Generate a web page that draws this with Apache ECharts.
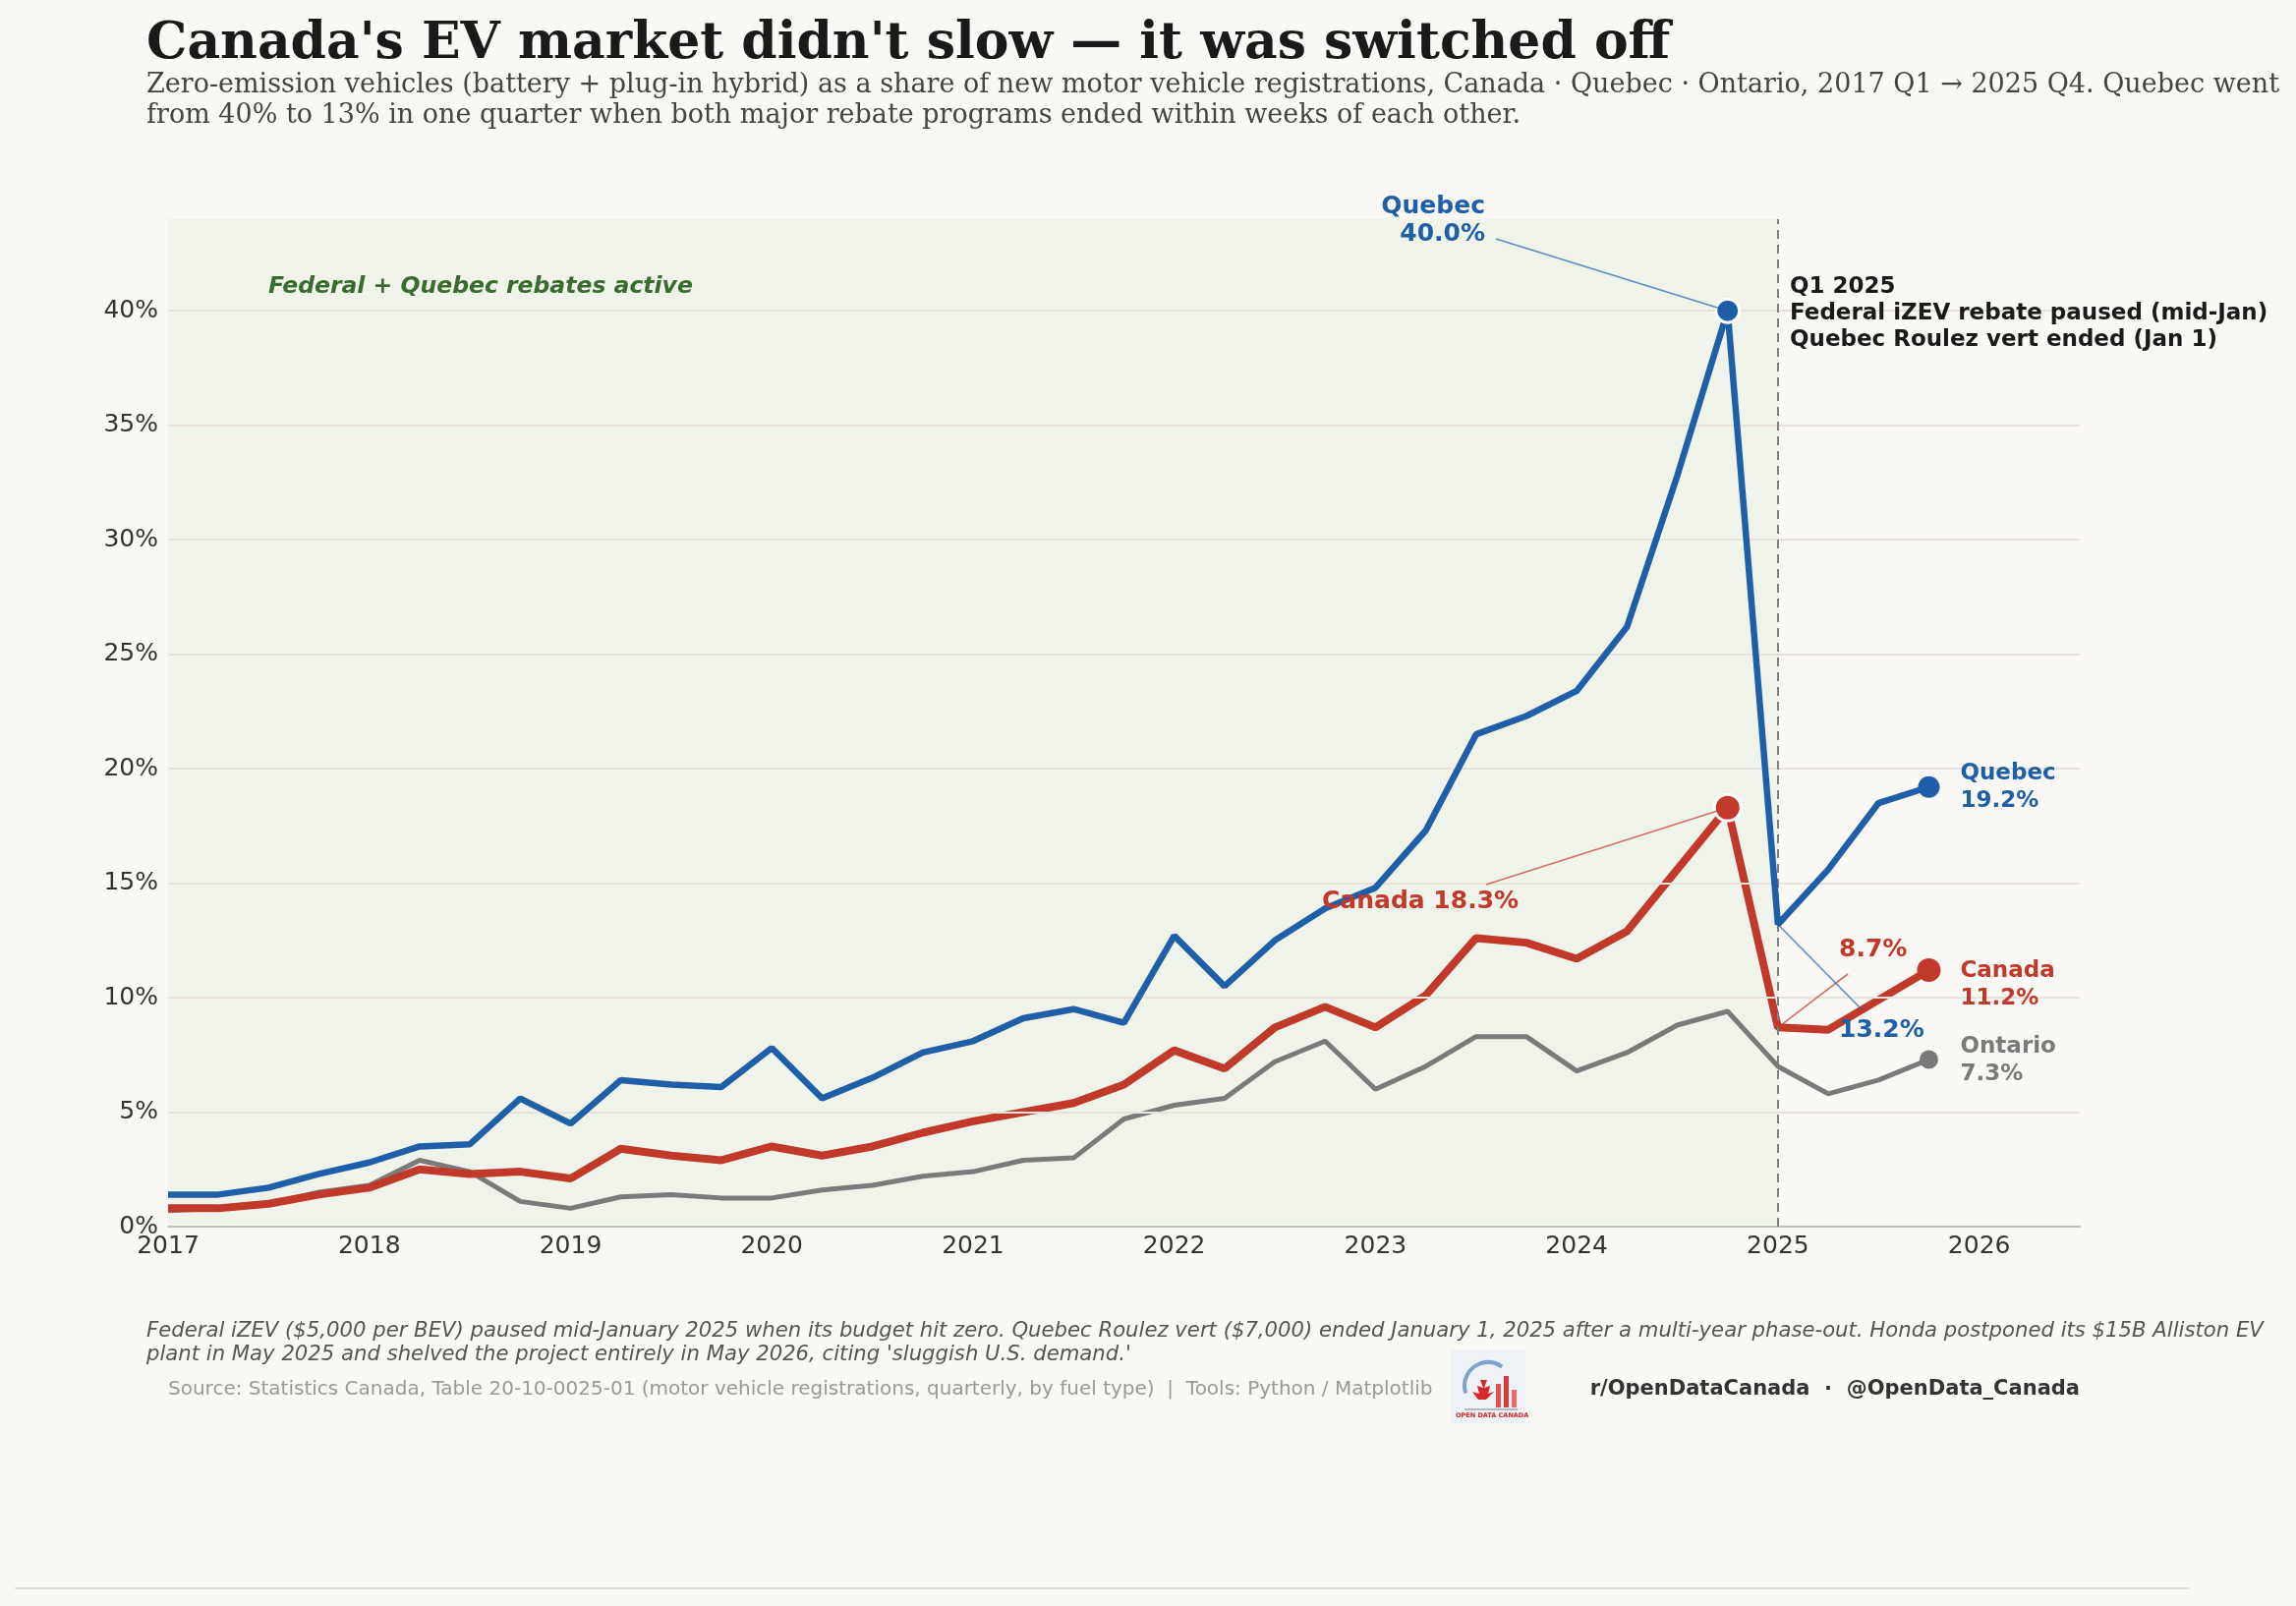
<!DOCTYPE html>
<html>
<head>
<meta charset="utf-8">
<script src="https://cdn.jsdelivr.net/npm/echarts@6/dist/echarts.min.js"></script>
<style>
  html, body { margin: 0; padding: 0; background: #f9f8f4; }
  #chart { width: 2336px; height: 1634px; }
</style>
</head>
<body>
<div id="chart"></div>
<script>
// quarterly ZEV share of new registrations, %
const quarters = [
  "2017 Q1", "2017 Q2", "2017 Q3", "2017 Q4",
  "2018 Q1", "2018 Q2", "2018 Q3", "2018 Q4",
  "2019 Q1", "2019 Q2", "2019 Q3", "2019 Q4",
  "2020 Q1", "2020 Q2", "2020 Q3", "2020 Q4",
  "2021 Q1", "2021 Q2", "2021 Q3", "2021 Q4",
  "2022 Q1", "2022 Q2", "2022 Q3", "2022 Q4",
  "2023 Q1", "2023 Q2", "2023 Q3", "2023 Q4",
  "2024 Q1", "2024 Q2", "2024 Q3", "2024 Q4",
  "2025 Q1", "2025 Q2", "2025 Q3", "2025 Q4"
];
const quebec = [
  1.4, 1.4, 1.7, 2.3, 2.8, 3.5, 3.6, 5.6, 4.5, 6.4, 6.2, 6.1,
  7.8, 5.6, 6.5, 7.6, 8.1, 9.1, 9.5, 8.9, 12.7, 10.5, 12.5, 13.9,
  14.8, 17.3, 21.5, 22.3, 23.4, 26.2, 32.8, 40.0, 13.2, 15.6, 18.5, 19.2
];
const canada = [
  0.8, 0.8, 1.0, 1.4, 1.7, 2.5, 2.3, 2.4, 2.1, 3.4, 3.1, 2.9,
  3.5, 3.1, 3.5, 4.1, 4.6, 5.0, 5.4, 6.2, 7.7, 6.9, 8.7, 9.6,
  8.7, 10.1, 12.6, 12.4, 11.7, 12.9, 15.6, 18.3, 8.7, 8.6, 9.9, 11.2
];
const ontario = [
  0.7, 0.8, 1.0, 1.5, 1.8, 2.9, 2.4, 1.1, 0.8, 1.3, 1.4, 1.25,
  1.25, 1.6, 1.8, 2.2, 2.4, 2.9, 3.0, 4.7, 5.3, 5.6, 7.2, 8.1,
  6.0, 7.0, 8.3, 8.3, 6.8, 7.6, 8.8, 9.4, 7.0, 5.8, 6.4, 7.3
];
const yTicks = [5, 10, 15, 20, 25, 30, 35, 40];
const rebateStart = 2017;
const rebateEnd = 2025;
const peakIdx = quarters.indexOf("2024 Q4");
const dropIdx = quarters.indexOf("2025 Q1");
const lastIdx = quarters.length - 1;

const BLUE = "#1f5fa8", RED = "#c0392b", GREY = "#7a7a7a";
const SANS = "DejaVu Sans", SERIF = "DejaVu Serif";

// "2019 Q3" -> 2019.5
const toX = (q) => {
  const [y, qq] = q.split(" Q");
  return Number(y) + (Number(qq) - 1) / 4;
};
const pts = (vals) => vals.map((v, i) => [toX(quarters[i]), v]);

const chart = echarts.init(document.getElementById("chart"));

const option = {
  backgroundColor: "#f9f8f4",
  animation: false,
  grid: { left: 171, right: 220, top: 223, bottom: 386 },
  xAxis: {
    type: "value", min: 2017, max: 2026.5, interval: 1,
    axisLine: { lineStyle: { color: "#bdbdbd", width: 2 } },
    axisTick: { show: false },
    splitLine: { show: false },
    axisLabel: {
      color: "#333", fontFamily: SANS, fontSize: 25, margin: 8,
      formatter: (v) => (Number.isInteger(v) ? String(v) : "")
    }
  },
  yAxis: {
    type: "value", min: 0, max: 44, interval: 5,
    axisLine: { show: false },
    axisTick: { show: false },
    splitLine: { show: false },
    axisLabel: {
      color: "#333", fontFamily: SANS, fontSize: 25, margin: 10,
      formatter: (v) => (v % 5 === 0 ? v + "%" : "")
    }
  },
  series: [
    {
      name: "shade", type: "line", data: [], z: 1, silent: true,
      markArea: {
        silent: true,
        itemStyle: { color: "rgba(200,225,195,0.2)" },
        data: [[{ xAxis: rebateStart, yAxis: 0 }, { xAxis: rebateEnd, yAxis: 44 }]]
      }
    },
    {
      name: "grid", type: "line", data: [], z: 1, silent: true,
      markLine: {
        silent: true, symbol: "none", label: { show: false },
        lineStyle: { color: "#e6e2da", width: 2, type: "solid" },
        data: yTicks.map((v) => ({ yAxis: v }))
      }
    },
    {
      name: "cutoff", type: "line", data: [], z: 2, silent: true,
      markLine: {
        silent: true, symbol: "none", label: { show: false },
        lineStyle: { color: "#808080", width: 2, type: [9, 6] },
        data: [{ xAxis: rebateEnd }]
      }
    },
    {
      name: "Ontario", type: "line", data: pts(ontario), z: 3,
      showSymbol: false, lineStyle: { color: GREY, width: 5 }
    },
    {
      name: "Canada", type: "line", data: pts(canada), z: 4,
      showSymbol: false, lineStyle: { color: RED, width: 8 }
    },
    {
      name: "Quebec", type: "line", data: pts(quebec), z: 5,
      showSymbol: false, lineStyle: { color: BLUE, width: 6.5 }
    },
    {
      name: "dots", type: "scatter", z: 6,
      itemStyle: { opacity: 1 },
      data: [
        { value: [toX(quarters[peakIdx]), quebec[peakIdx]], symbolSize: 24, itemStyle: { color: BLUE, borderColor: "#fff", borderWidth: 3, opacity: 1 } },
        { value: [toX(quarters[peakIdx]), canada[peakIdx]], symbolSize: 27, itemStyle: { color: RED, borderColor: "#fff", borderWidth: 3, opacity: 1 } },
        { value: [toX(quarters[lastIdx]), quebec[lastIdx]], symbolSize: 22, itemStyle: { color: BLUE, opacity: 1 } },
        { value: [toX(quarters[lastIdx]), canada[lastIdx]], symbolSize: 24, itemStyle: { color: RED, opacity: 1 } },
        { value: [toX(quarters[lastIdx]), ontario[lastIdx]], symbolSize: 19, itemStyle: { color: GREY, opacity: 1 } }
      ]
    }
  ]
};
chart.setOption(option);

const px = (i, vals) => chart.convertToPixel({ gridIndex: 0 }, [toX(quarters[i]), vals[i]]);
const txt = (x, y, text, style) => ({
  type: "text", x, y, z: 100,
  style: Object.assign({ text, fontFamily: SANS, fontSize: 24, fontWeight: "bold", fill: "#1a1a1a", verticalAlign: "top" }, style)
});
const seg = (a, b, color) => ({
  type: "line", z: 90, silent: true,
  shape: { x1: a[0], y1: a[1], x2: b[0], y2: b[1] },
  style: { stroke: color, lineWidth: 1.6, opacity: 0.7 }
});

const qPeak = px(peakIdx, quebec), cPeak = px(peakIdx, canada);
const qDrop = px(dropIdx, quebec), cDrop = px(dropIdx, canada);
const qEnd = px(lastIdx, quebec), cEnd = px(lastIdx, canada), oEnd = px(lastIdx, ontario);
const labX = qEnd[0] + 32;
const fmt = (v) => v.toFixed(1) + "%";

const graphic = [
  // title block
  { type: "text", left: 149, top: 19, style: { text: "Canada's EV market didn't slow \u2014 it was switched off", fontFamily: SERIF, fontWeight: "bold", fontSize: 52, fill: "#1a1a1a" } },
  { type: "text", left: 149, top: 71, style: { text: "Zero-emission vehicles (battery + plug-in hybrid) as a share of new motor vehicle registrations, Canada \u00b7 Quebec \u00b7 Ontario, 2017 Q1 \u2192 2025 Q4. Quebec went\nfrom 40% to 13% in one quarter when both major rebate programs ended within weeks of each other.", fontFamily: SERIF, fontSize: 27, lineHeight: 31, fill: "#444" } },

  txt(273, 280, "Federal + Quebec rebates active", { fontStyle: "italic", fontSize: 23.5, fill: "#3a6b2f" }),

  // Q1 2025 note
  txt(1821, 279, "Q1 2025\nFederal iZEV rebate paused (mid-Jan)\nQuebec Roulez vert ended (Jan 1)", { fontSize: 23, lineHeight: 27 }),

  // peak callouts
  txt(1511, 196, "Quebec\n" + fmt(quebec[peakIdx]), { fill: BLUE, fontSize: 25, lineHeight: 28, align: "right" }),
  seg([1522, 243], qPeak, BLUE),
  txt(1345, 905, "Canada " + fmt(canada[peakIdx]), { fill: RED, fontSize: 25 }),
  seg([1512, 900], cPeak, RED),

  // drop callouts
  txt(1871, 954, fmt(canada[dropIdx]), { fill: RED, fontSize: 25 }),
  seg([1880, 991], cDrop, RED),
  txt(1871, 1036, fmt(quebec[dropIdx]), { fill: BLUE, fontSize: 25 }),
  seg(qDrop, [1895, 1028], BLUE),

  // end labels
  txt(labX, qEnd[1] - 28, "Quebec\n" + fmt(quebec[lastIdx]), { fill: BLUE, fontSize: 23, lineHeight: 28 }),
  txt(labX, cEnd[1] - 13, "Canada\n" + fmt(canada[lastIdx]), { fill: RED, fontSize: 23, lineHeight: 28 }),
  txt(labX, oEnd[1] - 27, "Ontario\n" + fmt(ontario[lastIdx]), { fill: GREY, fontSize: 23, lineHeight: 28 }),

  // footer
  { type: "text", left: 149, top: 1342, style: { text: "Federal iZEV ($5,000 per BEV) paused mid-January 2025 when its budget hit zero. Quebec Roulez vert ($7,000) ended January 1, 2025 after a multi-year phase-out. Honda postponed its $15B Alliston EV\nplant in May 2025 and shelved the project entirely in May 2026, citing 'sluggish U.S. demand.'", fontFamily: SANS, fontStyle: "italic", fontSize: 21.2, lineHeight: 24, fill: "#555" } },
  { type: "text", left: 171, top: 1404, style: { text: "Source: Statistics Canada, Table 20-10-0025-01 (motor vehicle registrations, quarterly, by fuel type)  |  Tools: Python / Matplotlib", fontFamily: SANS, fontSize: 20, fill: "#999" } },
  { type: "text", right: 220, top: 1403, style: { text: "r/OpenDataCanada  \u00b7  @OpenData_Canada", fontFamily: SANS, fontWeight: "bold", fontSize: 21, fill: "#333" } },

  // little logo
  {
    type: "group", left: 1476, top: 1374, children: [
      { type: "rect", shape: { x: 0, y: 0, width: 76, height: 74 }, style: { fill: "#eef2f7" } },
      { type: "arc", shape: { cx: 38, cy: 36, r: 24, startAngle: Math.PI * 0.9, endAngle: Math.PI * 1.7 }, style: { stroke: "#7fa3cc", lineWidth: 4, fill: null } },
      { type: "rect", shape: { x: 46, y: 34, width: 5, height: 24 }, style: { fill: "#e05050" } },
      { type: "rect", shape: { x: 54, y: 26, width: 5, height: 32 }, style: { fill: "#d93a3a" } },
      { type: "rect", shape: { x: 62, y: 40, width: 5, height: 18 }, style: { fill: "#e86a6a" } },
      { type: "polygon", shape: { points: [[30, 30], [33, 38], [27, 36], [29, 44], [22, 42], [28, 50], [36, 50], [44, 42], [38, 44], [40, 36], [34, 38], [37, 30]] }, style: { fill: "#d62828" } },
      { type: "line", shape: { x1: 14, y1: 60, x2: 68, y2: 60 }, style: { stroke: "#9ab", lineWidth: 1.5 } },
      { type: "text", left: 5, top: 63, style: { text: "OPEN DATA CANADA", fontFamily: SANS, fontSize: 6.5, fontWeight: "bold", fill: "#d62828" } }
    ]
  },

  // bottom rule
  { type: "line", shape: { x1: 15, y1: 1616, x2: 2227, y2: 1616 }, style: { stroke: "#d4d4d0", lineWidth: 1.5 } }
];

chart.setOption({ graphic });
</script>
</body>
</html>
